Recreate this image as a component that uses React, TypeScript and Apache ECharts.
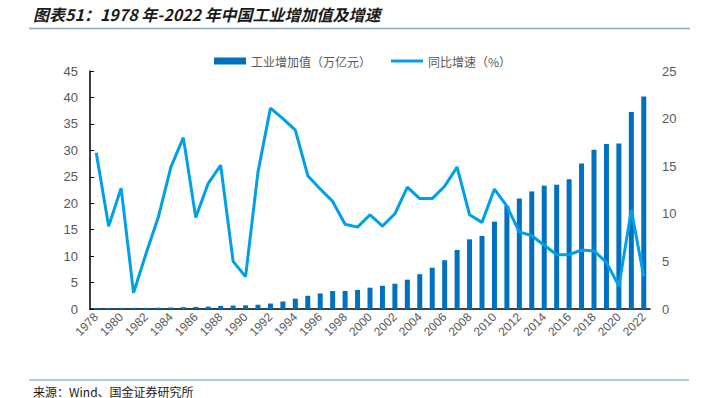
import React, { useEffect, useRef } from "react";
import * as echarts from "echarts";

const years: string[] = [
  "1978","1979","1980","1981","1982","1983","1984","1985","1986","1987",
  "1988","1989","1990","1991","1992","1993","1994","1995","1996","1997",
  "1998","1999","2000","2001","2002","2003","2004","2005","2006","2007",
  "2008","2009","2010","2011","2012","2013","2014","2015","2016","2017",
  "2018","2019","2020","2021","2022",
];

// 工业增加值（万亿元）
const valueAdded: number[] = [
  0.16, 0.18, 0.2, 0.21, 0.22, 0.24, 0.28, 0.35, 0.4, 0.46,
  0.58, 0.65, 0.69, 0.81, 1.03, 1.42, 1.95, 2.5, 2.94, 3.39,
  3.4, 3.59, 4.03, 4.39, 4.78, 5.54, 6.58, 7.8, 9.22, 11.17,
  13.17, 13.81, 16.51, 19.51, 20.89, 22.23, 23.32, 23.5, 24.54, 27.51,
  30.11, 31.19, 31.31, 37.26, 40.16,
];

// 同比增速（%）
const growth: number[] = [
  16.4, 8.7, 12.7, 1.7, 5.8, 9.7, 14.9, 18.0, 9.6, 13.2,
  15.1, 5.0, 3.4, 14.4, 21.1, 20.0, 18.8, 14.0, 12.6, 11.3,
  8.9, 8.6, 9.9, 8.7, 10.0, 12.8, 11.6, 11.6, 12.9, 14.9,
  9.9, 9.1, 12.6, 10.8, 8.1, 7.7, 6.7, 5.7, 5.7, 6.2,
  6.1, 4.9, 2.4, 10.4, 3.4,
];

const leftTicks = { min: 0, max: 45, interval: 5 };
const rightTicks = { min: 0, max: 25, interval: 5 };

const titleText = "图表51：1978 年-2022 年中国工业增加值及增速";
const sourceText = "来源：Wind、国金证券研究所";
const barName = "工业增加值（万亿元）";
const lineName = "同比增速（%）";

export default function App() {
  const ref = useRef<HTMLDivElement>(null);
  useEffect(() => {
    if (!ref.current) return;
    const chart = echarts.init(ref.current, undefined, { renderer: "svg" });
    const labelColor = "#595959";
    const font = "'Liberation Sans', Arial, 'Noto Sans CJK SC', sans-serif";
    chart.setOption({
      animation: false,
      backgroundColor: "#ffffff",
      textStyle: { fontFamily: font },
      graphic: [
        {
          type: "text",
          left: 33,
          top: 6,
          style: {
            text: titleText,
            fill: "#1a1a1a",
            font: "italic bold 16px 'Noto Sans CJK SC', sans-serif",
          },
        },
        {
          type: "line",
          shape: { x1: 29, y1: 28.5, x2: 690, y2: 28.5 },
          style: { stroke: "#8ea8c0", lineWidth: 1.5 },
        },
        {
          type: "line",
          shape: { x1: 29, y1: 380, x2: 689, y2: 380 },
          style: { stroke: "#b6c8d8", lineWidth: 2 },
        },
        {
          type: "text",
          x: 33,
          y: 391,
          style: {
            text: sourceText,
            fill: "#1a1a1a",
            verticalAlign: "middle",
            lineHeight: 12,
            font: "12px 'Noto Sans CJK SC', monospace",
          },
        },
      ],
      legend: {
        left: 209,
        top: 50,
        itemWidth: 32,
        itemHeight: 7,
        itemGap: 20,
        textStyle: { color: labelColor, fontSize: 12, fontFamily: "'Noto Sans CJK SC', sans-serif" },
        data: [
          { name: barName, icon: "rect" },
          { name: lineName, icon: "path://M0,0 L32,0 L32,3 L0,3 Z" },
        ],
      },
      grid: { left: 90, right: 53, top: 71, bottom: 89, containLabel: false },
      xAxis: {
        type: "category",
        data: years,
        boundaryGap: true,
        axisLine: { lineStyle: { color: "#000000", width: 1.5 } },
        axisTick: { inside: true, length: 3, interval: 1, lineStyle: { color: "#000000" } },
        axisLabel: {
          interval: 1,
          rotate: 45,
          color: labelColor,
          fontSize: 12,
          margin: 6,
        },
      },
      yAxis: [
        {
          type: "value",
          min: leftTicks.min,
          max: leftTicks.max,
          interval: leftTicks.interval,
          axisLine: { show: true, lineStyle: { color: "#000000", width: 1.5 } },
          axisTick: { show: true, inside: true, length: 4, lineStyle: { color: "#000000" } },
          axisLabel: { color: labelColor, fontSize: 13, margin: 12 },
          splitLine: { show: false },
        },
        {
          type: "value",
          min: rightTicks.min,
          max: rightTicks.max,
          interval: rightTicks.interval,
          axisLine: { show: false },
          axisTick: { show: false },
          axisLabel: { color: labelColor, fontSize: 13, margin: 12 },
          splitLine: { show: false },
        },
      ],
      series: [
        {
          name: barName,
          type: "bar",
          data: valueAdded,
          yAxisIndex: 0,
          barWidth: 5,
          itemStyle: { color: "#0070c0" },
        },
        {
          name: lineName,
          type: "line",
          data: growth,
          yAxisIndex: 1,
          showSymbol: false,
          symbol: "none",
          lineStyle: { color: "#00a0e9", width: 3 },
          itemStyle: { color: "#00a0e9" },
          z: 3,
        },
      ],
    });
    return () => chart.dispose();
  }, []);
  return (
    <div
      ref={ref}
      style={{ position: "fixed", left: 0, top: 0, width: 703, height: 398 }}
    />
  );
}
